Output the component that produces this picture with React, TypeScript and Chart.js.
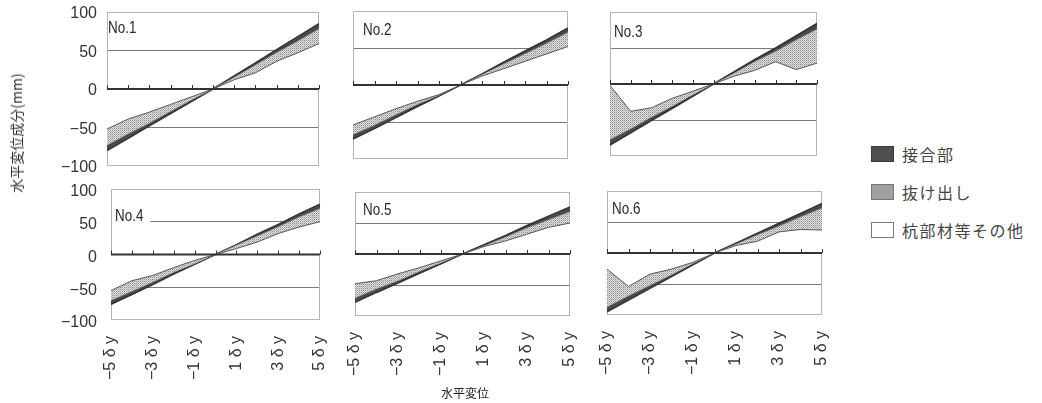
import React, { useEffect, useRef } from 'react';
import { Chart, registerables } from 'chart.js';

Chart.register(...registerables);

// ---- data ----
const xLabels = ['−5 δ y', '−4 δ y', '−3 δ y', '−2 δ y', '−1 δ y', '0', '1 δ y', '2 δ y', '3 δ y', '4 δ y', '5 δ y'];
const yTickValues = [-100, -50, 0, 50, 100];
const seriesNames = ['接合部', '抜け出し', '杭部材等その他'];
const panelNames = ['No.1', 'No.2', 'No.3', 'No.4', 'No.5', 'No.6'];
const yTitle = '水平変位成分(mm)';
const xTitle = '水平変位';

// 杭部材等その他 / 抜け出し / 接合部 (mm), stacked
const no1Pile = [-52, -39, -30, -20, -10, 0, 12, 21, 36, 47, 59];
const no1Pull = [-21, -19, -14, -9, -4, 0, 3, 10, 11, 15, 19];
const no1Joint = [-7, -6, -4, -3, -2, 0, 2, 3, 4, 6, 7];

const no2Pile = [-54, -43, -32, -22, -13, 0, 12, 22, 32, 42, 52];
const no2Pull = [-13, -11, -8, -4, -1, 0, 2, 6, 10, 14, 19];
const no2Joint = [-6, -5, -4, -3, -1, 0, 1, 3, 4, 5, 6];

const no3Pile = [-2, -38, -33, -20, -10, 0, 11, 19, 31, 20, 29];
const no3Pull = [-75, -24, -13, -11, -5, 0, 4, 12, 14, 41, 47];
const no3Joint = [-8, -6, -5, -3, -2, 0, 2, 3, 5, 6, 8];

const no4Pile = [-55, -40, -32, -20, -9, 0, 9, 19, 32, 42, 50];
const no4Pull = [-15, -16, -10, -7, -5, 0, 5, 9, 10, 15, 20];
const no4Joint = [-6, -5, -4, -3, -1, 0, 1, 3, 4, 5, 7];

const no5Pile = [-48, -43, -32, -22, -11, 0, 12, 21, 32, 43, 50];
const no5Pull = [-23, -13, -11, -6, -3, 0, 1, 6, 10, 12, 18];
const no5Joint = [-7, -6, -4, -3, -2, 0, 2, 3, 4, 6, 8];

const no6Pile = [-26, -54, -34, -26, -15, 0, 12, 19, 34, 38, 37];
const no6Pull = [-61, -15, -18, -9, -2, 0, 2, 10, 9, 20, 35];
const no6Joint = [-8, -7, -5, -3, -2, 0, 2, 3, 5, 6, 8];

const panelData = [
  [no1Pile, no1Pull, no1Joint],
  [no2Pile, no2Pull, no2Joint],
  [no3Pile, no3Pull, no3Joint],
  [no4Pile, no4Pull, no4Joint],
  [no5Pile, no5Pull, no5Joint],
  [no6Pile, no6Pull, no6Joint],
];

// ---- layout (plot rectangles in page px) ----
const layouts = [
  { L: 107, T: 12, R: 319, B: 166, nx: 1, nv: 78, lo: 2 },
  { L: 353, T: 11, R: 568, B: 159, nx: 10, nv: 73, lo: 0 },
  { L: 610, T: 12, R: 817, B: 156, nx: 4, nv: 72, lo: 0 },
  { L: 111, T: 189, R: 320, B: 320, nx: 4, nv: 58, lo: 3 },
  { L: 355, T: 192, R: 570, B: 316, nx: 8, nv: 70, lo: 0 },
  { L: 607, T: 191, R: 822, B: 315, nx: 5, nv: 70, lo: 0 },
];

function makePattern(ctx: CanvasRenderingContext2D) {
  const c = document.createElement('canvas');
  c.width = 2;
  c.height = 2;
  const g = c.getContext('2d')!;
  g.fillStyle = '#e2e2e2';
  g.fillRect(0, 0, 2, 2);
  g.fillStyle = '#8a8a8a';
  g.fillRect(0, 0, 1, 1);
  g.fillStyle = '#b8b8b8';
  g.fillRect(1, 1, 1, 1);
  return ctx.createPattern(c, 'repeat');
}

function Panel({ idx }: { idx: number }) {
  const ref = useRef<HTMLCanvasElement>(null);
  const lay = layouts[idx];
  const col1 = idx % 3 === 0;
  const row2 = idx >= 3;
  const PAD = 34;
  const leftExtra = col1 ? lay.L : PAD;
  const rightExtra = row2 ? 48 : PAD;
  const topExtra = PAD;
  const bottomExtra = row2 ? 80 : PAD;
  const cx = lay.L - leftExtra;
  const cy = lay.T - topExtra;
  const cw = lay.R - lay.L + leftExtra + rightExtra;
  const ch = lay.B - lay.T + topExtra + bottomExtra;

  useEffect(() => {
    const canvas = ref.current!;
    const ctx = canvas.getContext('2d')!;
    const pattern = makePattern(ctx);
    const [pile, pull, joint] = panelData[idx];

    const decor = {
      id: 'decor',
      beforeDatasetsDraw(chart: any) {
        const { ctx: c, chartArea: a } = chart;
        c.save();
        c.strokeStyle = '#b4b4b4';
        c.lineWidth = 1;
        c.strokeRect(a.left + 0.5, a.top + 0.5, a.right - a.left - 1, a.bottom - a.top - 1);
        c.restore();
      },
      afterDatasetsDraw(chart: any) {
        const { ctx: c, chartArea: a, scales } = chart;
        const y0 = scales.y.getPixelForValue(0);
        c.save();
        c.strokeStyle = '#333';
        c.lineWidth = 2;
        c.beginPath();
        c.moveTo(a.left, y0);
        c.lineTo(a.right, y0);
        c.stroke();
        c.lineWidth = 1;
        c.beginPath();
        for (let i = 0; i < xLabels.length; i++) {
          const x = Math.round(scales.x.getPixelForValue(i)) + 0.5;
          c.moveTo(x, y0);
          c.lineTo(x, y0 - 4);
        }
        c.stroke();
        // panel name (horizontally condensed)
        const ny = scales.y.getPixelForValue(lay.nv);
        c.font = '16px "Liberation Sans", Arial, sans-serif';
        const sx = 0.84;
        const w = c.measureText(panelNames[idx]).width * sx;
        c.fillStyle = '#fff';
        c.fillRect(a.left + 1, ny - 9, lay.nx + w + 6, 18);
        c.fillStyle = '#2a2a2a';
        c.textBaseline = 'middle';
        c.textAlign = 'left';
        c.translate(a.left + lay.nx, ny);
        c.scale(sx, 1);
        c.fillText(panelNames[idx], 0, 0);
        c.restore();
      },
    };

    const chart = new Chart(canvas, {
      type: 'line',
      data: {
        labels: xLabels,
        datasets: [
          {
            label: seriesNames[2],
            data: pile,
            fill: 'origin',
            backgroundColor: '#ffffff',
            borderColor: '#555',
            borderWidth: 1,
            pointRadius: 0,
            tension: 0,
          },
          {
            label: seriesNames[1],
            data: pull,
            fill: '-1',
            backgroundColor: pattern as any,
            borderColor: '#777',
            borderWidth: 0.5,
            pointRadius: 0,
            tension: 0,
          },
          {
            label: seriesNames[0],
            data: joint,
            fill: '-1',
            backgroundColor: '#4a4a4a',
            borderColor: '#333',
            borderWidth: 1.5,
            pointRadius: 0,
            tension: 0,
          },
        ],
      },
      options: {
        responsive: false,
        animation: false,
        events: [],
        layout: {
          padding: {
            left: col1 ? 0 : leftExtra,
            top: topExtra,
            right: rightExtra,
            bottom: row2 ? 0 : bottomExtra,
          },
        },
        plugins: {
          legend: { display: false },
          tooltip: { enabled: false },
          title: { display: false },
        },
        scales: {
          x: {
            type: 'category',
            offset: false,
            afterFit: (s: any) => {
              s.height = row2 ? bottomExtra : 0;
            },
            border: { display: false },
            grid: { display: false, drawTicks: false },
            ticks: {
              display: row2,
              autoSkip: false,
              minRotation: 90,
              maxRotation: 90,
              padding: 16,
              color: '#333',
              font: { size: 16, family: '"Liberation Sans", Arial, sans-serif' },
              callback: (_v: any, i: number) => (i % 2 === 0 ? xLabels[i] : ''),
            },
          },
          y: {
            type: 'linear',
            stacked: true,
            min: -100,
            max: 100,
            afterBuildTicks: (s: any) => {
              s.ticks = yTickValues.map((v) => ({ value: v }));
            },
            afterFit: (s: any) => {
              s.width = col1 ? lay.L : 0;
            },
            border: { display: false },
            grid: {
              drawTicks: false,
              lineWidth: 1,
              color: (c: any) => (Math.abs(c.tick.value) === 50 ? '#7a7a7a' : 'rgba(0,0,0,0)'),
            },
            ticks: {
              display: col1,
              padding: lay.L - 97,
              labelOffset: lay.lo,
              color: '#333',
              font: { size: 16, family: '"Liberation Sans", Arial, sans-serif' },
              callback: (v: any) => (Number(v) < 0 ? '−' + Math.abs(Number(v)) : String(v)),
            },
          },
        },
      },
      plugins: [decor],
    } as any);
    return () => chart.destroy();
  }, []);

  return (
    <canvas
      ref={ref}
      width={cw}
      height={ch}
      style={{ position: 'absolute', left: cx, top: cy, width: cw, height: ch }}
    />
  );
}

const legendRows = [
  { top: 146, swatch: { background: '#4e4e4e', border: '1px solid #3a3a3a' } },
  {
    top: 184,
    swatch: {
      backgroundColor: '#a0a0a0',
      backgroundImage: 'radial-gradient(#555 35%, transparent 40%)',
      backgroundSize: '2px 2px',
      border: '1px solid #777',
    },
  },
  { top: 222, swatch: { background: '#fff', border: '1px solid #777' } },
];

export default function App() {
  return (
    <div
      style={{
        position: 'absolute',
        left: 0,
        top: 0,
        width: 1042,
        height: 403,
        background: '#fff',
        overflow: 'hidden',
      }}
    >
      {panelNames.map((_, i) => (
        <Panel key={i} idx={i} />
      ))}
      <div
        style={{
          position: 'absolute',
          left: 16,
          top: 133,
          transform: 'translate(-50%, -50%) rotate(-90deg)',
          whiteSpace: 'nowrap',
          font: '14px "Noto Sans CJK JP", sans-serif',
          color: '#333',
        }}
      >
        {yTitle}
      </div>
      <div
        style={{
          position: 'absolute',
          left: 465,
          top: 392,
          transform: 'translate(-50%, -50%)',
          whiteSpace: 'nowrap',
          font: '12px "Noto Sans CJK JP", sans-serif',
          color: '#222',
        }}
      >
        {xTitle}
      </div>
      {legendRows.map((r, i) => (
        <React.Fragment key={i}>
          <div
            style={{
              position: 'absolute',
              left: 871,
              top: r.top,
              width: 21,
              height: 14,
              ...r.swatch,
            }}
          />
          <div
            style={{
              position: 'absolute',
              left: 902,
              top: r.top + 8,
              transform: 'translateY(-50%)',
              whiteSpace: 'nowrap',
              font: '16px "Noto Sans CJK JP", sans-serif',
              letterSpacing: '1.5px',
              color: '#444',
              lineHeight: '20px',
            }}
          >
            {seriesNames[i]}
          </div>
        </React.Fragment>
      ))}
    </div>
  );
}
